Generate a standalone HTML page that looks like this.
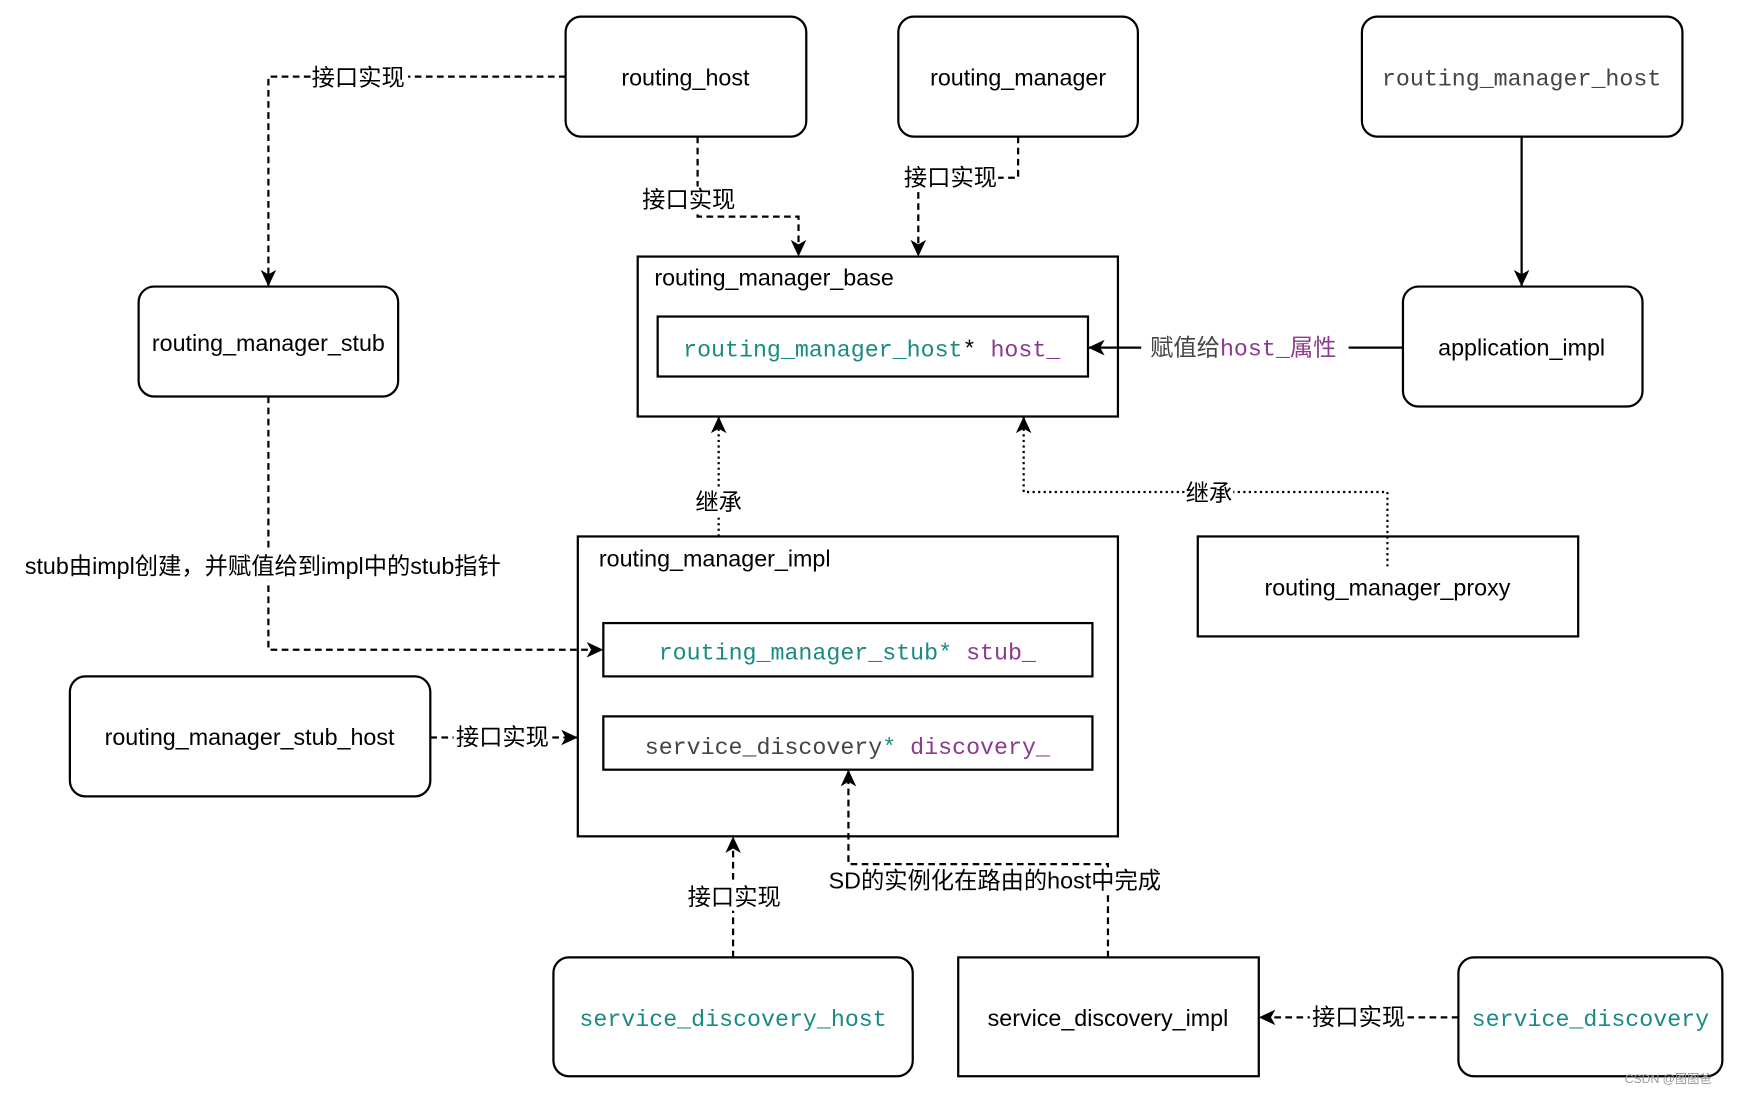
<!DOCTYPE html>
<html><head><meta charset="utf-8"><style>
html,body{margin:0;padding:0;background:#fff;}
svg{display:block;}
text{font-family:"Liberation Sans","Noto Sans CJK SC",sans-serif;font-size:20px;fill:#000;}
.m{font-family:"Liberation Mono","Noto Sans CJK SC",monospace;font-size:21px;}
.t{fill:#1a8a82;} .p{fill:#8a3a8f;} .g{fill:#444;}
</style></head><body>
<svg width="1739" height="1094" viewBox="0 0 1568 985" preserveAspectRatio="none" xmlns="http://www.w3.org/2000/svg">
<defs><marker id="a" markerWidth="16" markerHeight="16" refX="14" refY="8" orient="auto" markerUnits="userSpaceOnUse"><path d="M0,1 L15,8 L0,15 L4,8 z" fill="#000"/></marker></defs>
<g fill="none" stroke="#000" stroke-width="2">
<rect x="510" y="15" width="217" height="108" rx="14"/>
<rect x="810" y="15" width="216" height="108" rx="14"/>
<rect x="1228" y="15" width="289" height="108" rx="14"/>
<rect x="125" y="258" width="234" height="99" rx="14"/>
<rect x="1265" y="258" width="216" height="108" rx="14"/>
<rect x="575" y="231" width="433" height="144"/>
<rect x="593" y="285" width="388" height="54"/>
<rect x="521" y="483" width="487" height="270"/>
<rect x="544" y="561" width="441" height="48"/>
<rect x="544" y="645" width="441" height="48"/>
<rect x="1080" y="483" width="343" height="90"/>
<rect x="63" y="609" width="325" height="108" rx="14"/>
<rect x="499" y="862" width="324" height="107" rx="14"/>
<rect x="864" y="862" width="271" height="107"/>
<rect x="1315" y="862" width="238" height="107" rx="14"/>
</g>
<g fill="none" stroke="#000" stroke-width="2">
<path d="M510,69 H242 V257" stroke-dasharray="6,4" marker-end="url(#a)"/>
<path d="M629,123 V195 H720 V230" stroke-dasharray="6,4" marker-end="url(#a)"/>
<path d="M918,123 V160 H828 V230" stroke-dasharray="6,4" marker-end="url(#a)"/>
<path d="M1372,123 V257" marker-end="url(#a)"/>
<path d="M1265,313 H982" marker-end="url(#a)"/>
<path d="M648,483 V376" stroke-dasharray="2,3" marker-end="url(#a)"/>
<path d="M1251,510 V443 H923 V376" stroke-dasharray="2,3" marker-end="url(#a)"/>
<path d="M242,357 V585 H543" stroke-dasharray="6,4" marker-end="url(#a)"/>
<path d="M388,664 H520" stroke-dasharray="6,4" marker-end="url(#a)"/>
<path d="M661,862 V754" stroke-dasharray="6,4" marker-end="url(#a)"/>
<path d="M999,862 V778 H765 V694" stroke-dasharray="6,4" marker-end="url(#a)"/>
<path d="M1315,916 H1136" stroke-dasharray="6,4" marker-end="url(#a)"/>
</g>
<g fill="#fff">
<rect x="280" y="58" width="88" height="24"/>
<rect x="578" y="168" width="86" height="24"/>
<rect x="814" y="148" width="86" height="24"/>
<rect x="1029" y="300" width="187" height="26"/>
<rect x="626" y="440" width="44" height="24"/>
<rect x="1068" y="432" width="44" height="24"/>
<rect x="16" y="497" width="442" height="26"/>
<rect x="409" y="652" width="88" height="24"/>
<rect x="619" y="796" width="88" height="24"/>
<rect x="742" y="781" width="310" height="24"/>
<rect x="1181" y="904" width="88" height="24"/>
</g>
<text x="590" y="257" style="font-size:21px">routing_manager_base</text>
<text x="540" y="510" style="font-size:21px">routing_manager_impl</text>
<g text-anchor="middle" style="font-size:21px">
<text x="618" y="77" style="font-size:21px">routing_host</text>
<text x="918" y="77" style="font-size:21px">routing_manager</text>
<text x="1372" y="77" class="m g">routing_manager_host</text>
<text x="242" y="316" style="font-size:21px">routing_manager_stub</text>
<text x="1372" y="320" style="font-size:21px">application_impl</text>
<text x="786" y="321" class="m"><tspan class="t">routing_manager_host</tspan>* <tspan class="p">host_</tspan></text>
<text x="764" y="594" class="m"><tspan class="t">routing_manager_stub</tspan><tspan class="t">*</tspan> <tspan class="p">stub_</tspan></text>
<text x="764" y="679" class="m"><tspan class="g">service_discovery</tspan><tspan class="t">*</tspan> <tspan class="p">discovery_</tspan></text>
<text x="1251" y="536" style="font-size:21px">routing_manager_proxy</text>
<text x="225" y="671" style="font-size:21px">routing_manager_stub_host</text>
<text x="661" y="924" class="m t">service_discovery_host</text>
<text x="999" y="924" style="font-size:21px">service_discovery_impl</text>
<text x="1434" y="924" class="m t">service_discovery</text>
<text x="323" y="77" style="font-size:21px">接口实现</text>
<text x="621" y="187" style="font-size:21px">接口实现</text>
<text x="857" y="167" style="font-size:21px">接口实现</text>
<text x="1121" y="320" class="g" style="font-size:21px">赋值给<tspan class="m p">host_</tspan><tspan class="p">属性</tspan></text>
<text x="648" y="459" style="font-size:21px">继承</text>
<text x="1090" y="451" style="font-size:21px">继承</text>
<text x="237" y="517" style="font-size:21px">stub由impl创建，并赋值给到impl中的stub指针</text>
<text x="453" y="671" style="font-size:21px">接口实现</text>
<text x="662" y="815" style="font-size:21px">接口实现</text>
<text x="897" y="800" style="font-size:21px">SD的实例化在路由的host中完成</text>
<text x="1225" y="923" style="font-size:21px">接口实现</text>
</g>
<text x="1465" y="975" style="font-size:11px;fill:#999">CSDN @图图爸</text>
</svg>
</body></html>
